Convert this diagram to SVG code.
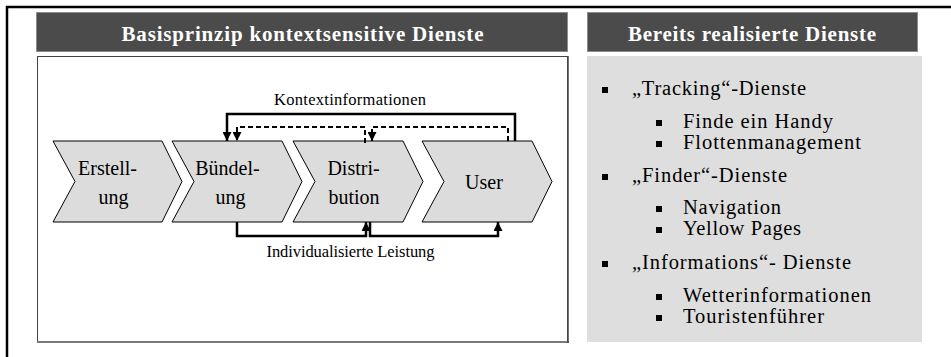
<svg xmlns="http://www.w3.org/2000/svg" width="951" height="357" viewBox="0 0 951 357">
<style>
text{font-family:'Liberation Serif','DejaVu Serif',serif}
.frame{stroke:#000;stroke-width:2.5;fill:none}
.bar{fill:#4b4b4b;stroke:#8c8c8c;stroke-width:1}
.ttl{font-weight:bold;font-size:21px;fill:#fff;text-anchor:middle}
.chev{fill:#dcdcdc;stroke:#000;stroke-width:1}
.lbl{font-size:20px;fill:#000;text-anchor:middle}
.small{font-size:16.5px;fill:#000;text-anchor:middle}
.li{font-size:20.5px;fill:#000}
.solid{stroke:#000;stroke-width:2.5;fill:none}
.dash{stroke:#000;stroke-width:2;fill:none;stroke-dasharray:5,3}
.bul{fill:#000}
</style>
<defs>
<marker id="ah" markerWidth="9" markerHeight="9" viewBox="0 0 10 10" refX="10" refY="5" orient="auto" markerUnits="userSpaceOnUse"><path d="M0,0 L10,5 L0,10 Z" fill="#000"/></marker>
</defs>
<rect width="951" height="357" fill="#fff"/>
<g id="frame">
<line class="frame" x1="6" y1="7" x2="951" y2="7"/>
<line class="frame" x1="7" y1="6" x2="7" y2="357"/>
</g>
<g id="title-left">
<rect class="bar" x="36.5" y="12.5" width="531" height="39"/>
<text class="ttl" x="302.5" y="40.5" textLength="362">Basisprinzip kontextsensitive Dienste</text>
</g>
<g id="title-right">
<rect class="bar" x="587.5" y="12.5" width="330" height="39"/>
<text class="ttl" x="752" y="40.5" textLength="248">Bereits realisierte Dienste</text>
</g>
<g id="panel-left">
<rect x="37.5" y="56.5" width="530" height="285.5" fill="#fff" stroke="#444" stroke-width="1"/>
<line x1="37" y1="342" x2="569" y2="342" stroke="#7a7a7a" stroke-width="2"/>
<line x1="568" y1="56" x2="568" y2="343" stroke="#444" stroke-width="1.5"/>
</g>
<g id="panel-right">
<rect x="587" y="56" width="335" height="286" fill="#dedede"/>
</g>
<g id="erstellung">
<path class="chev" d="M53,141 L162,141 L182,181.5 L162,222 L53,222 L75,181.5 Z"/>
<text class="lbl" x="107.5" y="175">Erstell-</text>
<text class="lbl" x="113.5" y="204">ung</text>
</g>
<g id="buendelung">
<path class="chev" d="M172,141 L282,141 L302,181.5 L282,222 L172,222 L194,181.5 Z"/>
<text class="lbl" x="227.5" y="175">Bündel-</text>
<text class="lbl" x="230.5" y="204">ung</text>
</g>
<g id="distribution">
<path class="chev" d="M293,141 L403,141 L423,181.5 L403,222 L293,222 L315,181.5 Z"/>
<text class="lbl" x="353.5" y="175">Distri-</text>
<text class="lbl" x="354" y="204">bution</text>
</g>
<g id="user">
<path class="chev" d="M422,141 L532,141 L552,181.5 L532,222 L422,222 L444,181.5 Z"/>
<text class="lbl" x="484" y="189">User</text>
</g>
<g id="connectors">
<path class="solid" d="M515,141 V114 H227 V141" marker-end="url(#ah)"/>
<path class="dash" d="M508,141 V127 H372 V141" marker-end="url(#ah)"/>
<path class="dash" d="M365,143 V127 H237 V141" marker-end="url(#ah)"/>
<path class="solid" d="M237,222 V236 H366 V222" marker-end="url(#ah)"/>
<path class="solid" d="M370,222 V236 H498 V222" marker-end="url(#ah)"/>
<text class="small" x="350" y="105" textLength="152">Kontextinformationen</text>
<text class="small" x="350.5" y="257" textLength="168">Individualisierte Leistung</text>
</g>
<g id="list">
<rect class="bul" x="602" y="87" width="6" height="6"/>
<text class="li" x="632" y="95" textLength="174">„Tracking“-Dienste</text>
<rect class="bul" x="656" y="120" width="6" height="6"/>
<text class="li" x="683" y="128" textLength="150">Finde ein Handy</text>
<rect class="bul" x="656" y="141" width="6" height="6"/>
<text class="li" x="683" y="149" textLength="178">Flottenmanagement</text>
<rect class="bul" x="602" y="174" width="6" height="6"/>
<text class="li" x="632" y="182" textLength="155">„Finder“-Dienste</text>
<rect class="bul" x="656" y="206" width="6" height="6"/>
<text class="li" x="683" y="214" textLength="98">Navigation</text>
<rect class="bul" x="656" y="227" width="6" height="6"/>
<text class="li" x="683" y="235" textLength="118">Yellow Pages</text>
<rect class="bul" x="602" y="261" width="6" height="6"/>
<text class="li" x="632" y="269" textLength="219">„Informations“- Dienste</text>
<rect class="bul" x="656" y="294" width="6" height="6"/>
<text class="li" x="683" y="302" textLength="188">Wetterinformationen</text>
<rect class="bul" x="656" y="315" width="6" height="6"/>
<text class="li" x="683" y="323" textLength="141">Touristenführer</text>
</g>
</svg>
